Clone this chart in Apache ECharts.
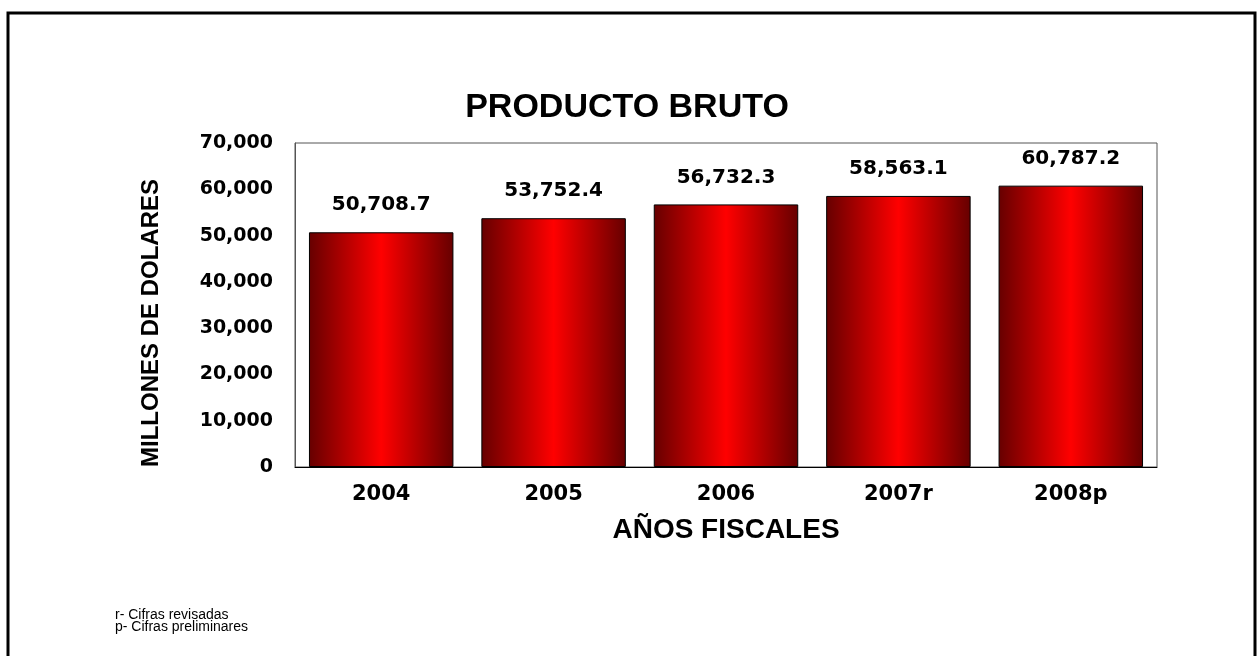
<!DOCTYPE html>
<html>
<head>
<meta charset="utf-8">
<script src="https://cdn.jsdelivr.net/npm/echarts@6/dist/echarts.min.js"></script>
<style>html,body{margin:0;padding:0;background:#fff}#c{width:1257px;height:656px}</style>
</head>
<body>
<div id="c"></div>
<script>
const categories = ['2004', '2005', '2006', '2007r', '2008p'];
const values = [50708.7, 53752.4, 56732.3, 58563.1, 60787.2];
const yTicks = { min: 0, max: 70000, interval: 10000 };
const titleText = 'PRODUCTO BRUTO';
const yName = 'MILLONES DE DOLARES';
const xName = 'AÑOS FISCALES';
const footnotes = ['r- Cifras revisadas', 'p- Cifras preliminares'];

const chart = echarts.init(document.getElementById('c'));
const wide = 'DejaVu Sans';
const arial = '"Liberation Sans", Arial, sans-serif';

chart.setOption({
  backgroundColor: '#fff',
  animation: false,
  title: [
    { text: titleText, left: 622, top: 86, textAlign: 'center',
      textStyle: { fontFamily: arial, fontSize: 34, fontWeight: 'bold', color: '#000' } },
    { text: footnotes.join('\n'), left: 115, top: 609, padding: 0,
      textStyle: { fontFamily: arial, fontSize: 14, fontWeight: 'normal', color: '#000', lineHeight: 12 } }
  ],
  graphic: [
    { type: 'rect', silent: true, z: 100,
      shape: { x: 8, y: 13, width: 1247, height: 700 },
      style: { fill: 'none', stroke: '#000', lineWidth: 3 } }
  ],
  grid: { left: 295, right: 100, top: 143, bottom: 189, show: true, borderColor: '#555', borderWidth: 1, backgroundColor: '#fff' },
  xAxis: {
    type: 'category', data: categories,
    name: xName, nameLocation: 'middle', nameGap: 49,
    nameTextStyle: { fontFamily: arial, fontSize: 28, fontWeight: 'bold', color: '#000' },
    axisLine: { show: true, lineStyle: { color: '#000', width: 1 } },
    axisTick: { show: false },
    axisLabel: { margin: 17, fontFamily: wide, fontSize: 21, fontWeight: 'bold', color: '#000' }
  },
  yAxis: {
    type: 'value', min: yTicks.min, max: yTicks.max, interval: yTicks.interval,
    name: yName, nameLocation: 'middle', nameGap: 132, nameRotate: 90,
    nameTextStyle: { fontFamily: arial, fontSize: 24, fontWeight: 'bold', color: '#000', padding: [0, 36, 0, 0] },
    axisLine: { show: true, lineStyle: { color: '#555', width: 1 } },
    axisTick: { show: false },
    splitLine: { show: false },
    axisLabel: { margin: 22, fontFamily: wide, fontSize: 19, fontWeight: 'bold', color: '#000',
      formatter: v => v.toLocaleString('en-US') }
  },
  series: [{
    type: 'bar', data: values, barCategoryGap: '16.2%',
    itemStyle: {
      borderColor: '#000', borderWidth: 1,
      color: new echarts.graphic.LinearGradient(0, 0, 1, 0, [
        { offset: 0, color: '#660000' },
        { offset: 0.5, color: '#ff0000' },
        { offset: 1, color: '#660000' }
      ])
    },
    label: { show: true, position: 'top', distance: 17, fontFamily: wide, fontSize: 20, fontWeight: 'bold', color: '#000',
      formatter: p => p.value.toLocaleString('en-US', { minimumFractionDigits: 1, maximumFractionDigits: 1 }) }
  }]
});
</script>
</body>
</html>
